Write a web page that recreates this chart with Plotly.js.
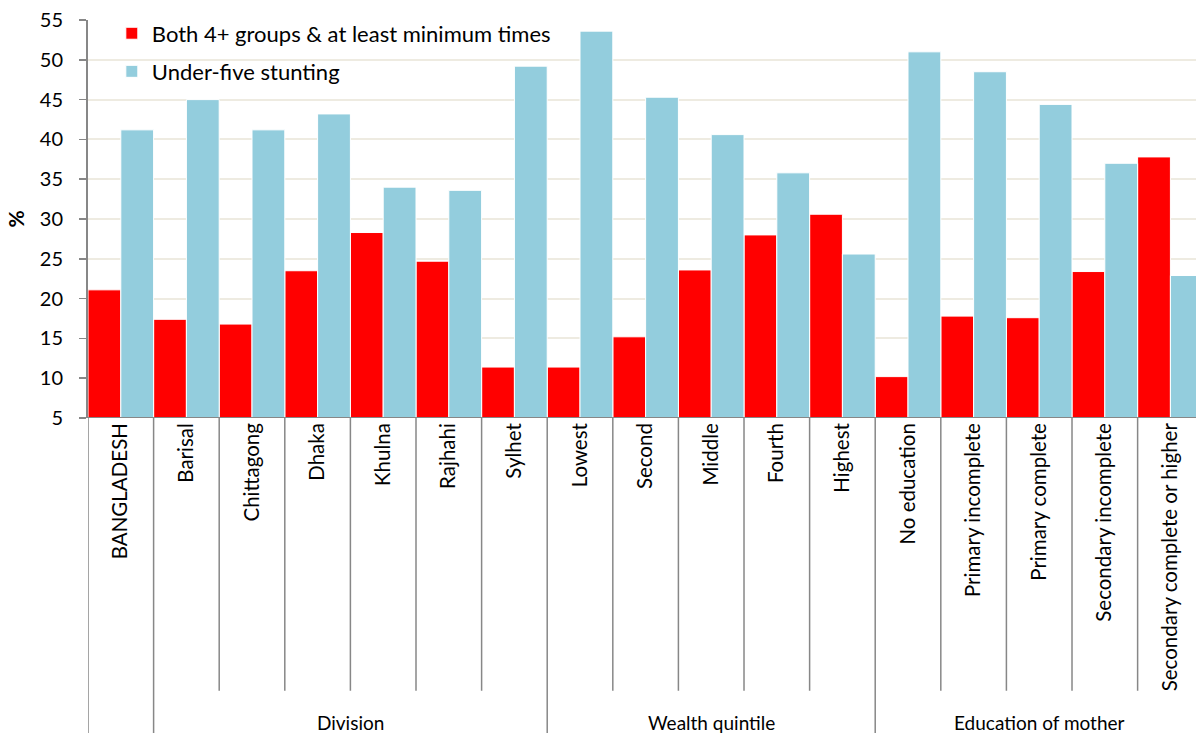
<!DOCTYPE html>
<html>
<head>
<meta charset="utf-8">
<script src="https://cdn.plot.ly/plotly-3.0.1.min.js"></script>
<style>html,body{margin:0;padding:0;background:#fff;}#chart{width:1196px;height:733px;}</style>
</head>
<body>
<div id="chart"></div>
<script>
var categories = ["BANGLADESH","Barisal","Chittagong","Dhaka","Khulna","Rajhahi","Sylhet","Lowest","Second","Middle","Fourth","Highest","No education","Primary incomplete","Primary complete","Secondary incomplete","Secondary complete or higher"];
var feedingValues = [21.1, 17.4, 16.8, 23.5, 28.3, 24.7, 11.4, 11.4, 15.2, 23.6, 28.0, 30.6, 10.2, 17.8, 17.6, 23.4, 37.8];
var stuntingValues = [41.2, 45.0, 41.2, 43.2, 34.0, 33.6, 49.2, 53.6, 45.3, 40.6, 35.8, 25.6, 51.0, 48.5, 44.4, 37.0, 22.9];
var groupNames = ["", "Division", "Wealth quintile", "Education of mother"];
var groupSizes = [1, 6, 5, 5];
var seriesNames = ["Both 4+ groups & at least minimum times", "Under-five stunting"];
var yTicks = [5, 10, 15, 20, 25, 30, 35, 40, 45, 50, 55];

var FONT = "Lato, 'Open Sans', sans-serif";
var axisColor = "#878787";
var idx = categories.map(function(c, i){ return i; });

var traces = [
  {type: "bar", name: seriesNames[0], x: idx, y: feedingValues, base: 0,
   marker: {color: "#FF0000", line: {color: "#ffffff", width: 1}}, legendgroup: "a"},
  {type: "bar", name: seriesNames[1], x: idx, y: stuntingValues, base: 0,
   marker: {color: "#93CDDD", line: {color: "#ffffff", width: 1}}, legendgroup: "b"}
];

// dividers and group labels
var shapes = [];
var annotations = [];
var longBounds = {};
var pos = 0;
groupSizes.forEach(function(sz, g){
  longBounds[pos] = true;
  longBounds[pos + sz] = true;
  if (groupNames[g]) {
    annotations.push({xref: "x", yref: "paper", x: pos + (sz - 1) / 2, y: -0.765,
      text: groupNames[g], showarrow: false, yanchor: "middle",
      font: {family: FONT, size: 19, color: "#000"}});
  }
  pos += sz;
});
for (var b = 0; b <= categories.length; b++) {
  shapes.push({type: "line", xref: "x", yref: "paper", x0: b - 0.5, x1: b - 0.5,
    y0: 0, y1: longBounds[b] ? -0.8 : -0.685, line: {color: axisColor, width: 1.5}});
}

var layout = {
  width: 1196, height: 733,
  margin: {l: 88, r: 0, t: 20, b: 315},
  paper_bgcolor: "#fff", plot_bgcolor: "#fff",
  barmode: "group", bargap: 0, bargroupgap: 0,
  font: {family: FONT, size: 18, color: "#000"},
  showlegend: true,
  legend: {x: 0.0215, y: 1.019, xanchor: "left", yanchor: "top", bgcolor: "rgba(0,0,0,0)",
           font: {family: FONT, size: 22, color: "#000"}, traceorder: "grouped", tracegroupgap: 6.5},
  xaxis: {type: "linear", range: [-0.5, 16.39], tickmode: "array",
          tickvals: idx, ticktext: categories, tickangle: -90, ticks: "",
          showgrid: false, zeroline: false, showline: false,
          tickfont: {family: FONT, size: 20.5, color: "#000"}, fixedrange: true},
  yaxis: {range: [5, 55], tickmode: "array", tickvals: yTicks, ticks: "outside", ticklen: 7,
          tickcolor: axisColor, tickwidth: 1.5, showline: true, linecolor: axisColor, linewidth: 2,
          gridcolor: "#EEEBE1", gridwidth: 2, zeroline: false, ticklabelstandoff: 12,
          tickfont: {family: FONT, size: 20, color: "#000"},
          title: {text: "<b>%</b>", font: {family: FONT, size: 21, color: "#000"}, standoff: 9}},
  shapes: shapes.concat([{type: "line", xref: "paper", yref: "y", x0: 0, x1: 1, y0: 5, y1: 5,
    line: {color: axisColor, width: 2}}]),
  annotations: annotations
};

Plotly.newPlot("chart", traces, layout, {displayModeBar: false, staticPlot: true});
</script>
</body>
</html>
